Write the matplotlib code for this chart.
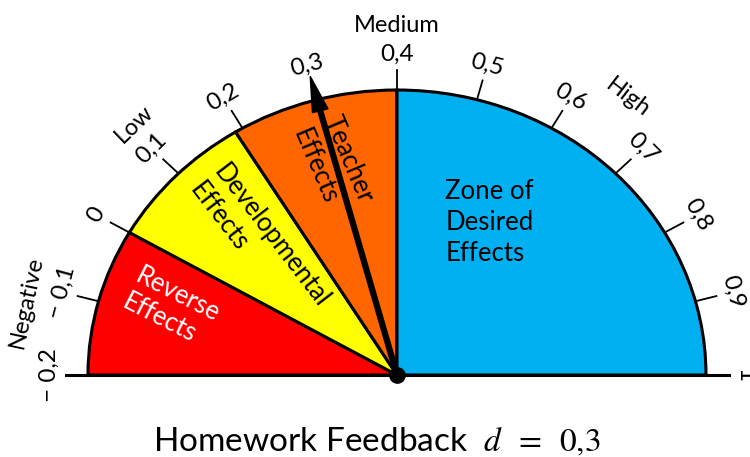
"""Hattie-style barometer: where Homework Feedback (d = 0,3) sits on the effect-size scale."""
import matplotlib
matplotlib.use("Agg")
import matplotlib.pyplot as plt
from matplotlib.patches import Wedge, Polygon
import numpy as np

plt.rcParams["font.family"] = ["Lato", "DejaVu Sans"]
plt.rcParams["mathtext.fontset"] = "stix"

# scale of the gauge, left end to right end
tick_values = [-0.2, -0.1, 0.0, 0.1, 0.2, 0.3, 0.4, 0.5, 0.6, 0.7, 0.8, 0.9, 1.0]
tick_labels = ["− 0,2", "− 0,1", "0", "0,1", "0,2", "0,3", "0,4", "0,5", "0,6", "0,7", "0,8", "0,9", "1"]
# zones
zone_edges = [-0.2, 0.0, 0.19, 0.4, 1.0]
zone_names = ["Reverse\nEffects", "Developmental\nEffects", "Teacher\nEffects", "Zone of\nDesired\nEffects"]
zone_colors = ["#ff0000", "#ffff00", "#ff6600", "#00b0f0"]
zone_text_colors = ["white", "black", "black", "black"]
# level words round the outside
level_names = ["Negative", "Low", "Medium", "High"]
level_values = [-0.12, 0.107, 0.4, 0.65]
# the effect being shown
effect_name = "Homework Feedback"
effect_d = 0.3

VMIN, VMAX = tick_values[0], tick_values[-1]


def ang(v):
    return 180.0 - (v - VMIN) / (VMAX - VMIN) * 180.0


def pol(r, a):
    t = np.radians(a)
    return r * np.cos(t), r * np.sin(t)


fig = plt.figure(figsize=(7.5, 4.57), dpi=100)
ax = fig.add_axes([0, 0, 1, 1])
# centre at (397, 375) px, radii 309 x 285 px
ax.set_xlim(-397 / 309, (750 - 397) / 309)
ax.set_ylim(-82 / 285, (457 - 82) / 285)
ax.set_aspect("auto")
ax.axis("off")

for lo, hi, c in zip(zone_edges[:-1], zone_edges[1:], zone_colors):
    ax.add_patch(Wedge((0, 0), 1.0, ang(hi), ang(lo), facecolor=c, edgecolor="black", lw=2.2, zorder=2))

ax.plot([-1.07, 1.075], [0, 0], color="black", lw=2.2, zorder=3)

for v, lab in zip(tick_values, tick_labels):
    a = ang(v)
    x0, y0 = pol(1.0, a); x1, y1 = pol(1.07, a)
    ax.plot([x0, x1], [y0, y1], color="black", lw=1.3, zorder=3)
    tx, ty = pol(1.125, a)
    ax.text(tx, ty, lab, rotation=a - 90, ha="center", va="center", fontsize=17.5, zorder=4)

for v, lab in zip(level_values, level_names):
    a = ang(v)
    tx, ty = pol(1.225, a)
    ax.text(tx, ty, lab, rotation=a - 90, ha="center", va="center", fontsize=17, zorder=4)

# zone label placement (x, y, rotation, line spacing)
zone_label_pos = [(-0.73, 0.235, -27, 1.2), (-0.447, 0.456, -52.5, 1.25),
                  (-0.207, 0.733, -67, 1.45), (0.30, 0.535, 0, 1.3)]
for name, col, (x, y, rot, ls) in zip(zone_names, zone_text_colors, zone_label_pos):
    ax.text(x, y, name, color=col, rotation=rot, ha="center", va="center", fontsize=18.5,
            linespacing=ls, rotation_mode="anchor", zorder=4, multialignment="left")

# needle
a = ang(effect_d)
nx, ny = pol(0.96, a)
ax.plot([0, nx], [0, ny], color="black", lw=4.5, solid_capstyle="butt", zorder=5)
t = np.radians(a)
px, py = -np.sin(t), np.cos(t)
head = [pol(1.085, a), (nx + 0.026 * px, ny + 0.026 * py), (nx - 0.026 * px, ny - 0.026 * py)]
ax.add_patch(Polygon(head, closed=True, color="black", zorder=5))
ax.plot([0], [0], "o", color="black", ms=11, zorder=6)

d_txt = f"{effect_d:.1f}".replace(".", "{,}")
fig.text(0.503, 0.012, effect_name + r"  $d\;\;=\;\;" + d_txt + "$", ha="center", va="baseline", fontsize=24)

fig.savefig("out.png", dpi=100)
